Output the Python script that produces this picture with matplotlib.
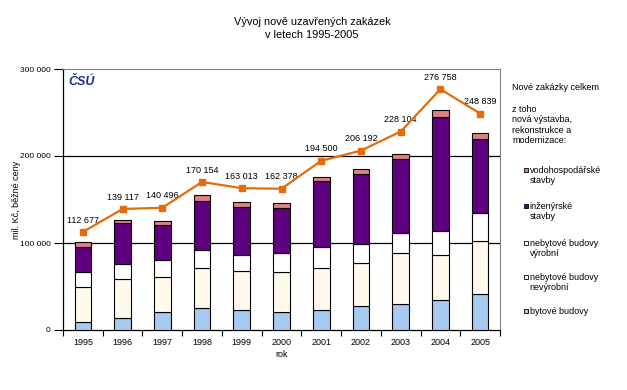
import numpy as np
import matplotlib.pyplot as plt
from matplotlib.patches import Rectangle

plt.rcParams['font.family'] = ['Liberation Sans', 'DejaVu Sans']
plt.rcParams['font.size'] = 6.5

# data (mil. Kc)
years = ['1995', '1996', '1997', '1998', '1999', '2000', '2001', '2002', '2003', '2004', '2005']
bytove = [8800, 13800, 20400, 25000, 22700, 20400, 22700, 27300, 29600, 34200, 41200]
nevyrobni = [40400, 44700, 40400, 46200, 45000, 46100, 48500, 49600, 58900, 52000, 61100]
vyrobni = [17300, 17300, 19600, 20700, 18500, 22000, 24200, 22300, 23000, 27600, 32300]
inzenyrske = [28900, 47300, 40400, 56600, 55300, 51500, 76200, 80400, 85500, 131600, 85400]
vodohosp = [5800, 3800, 4600, 6100, 5800, 6200, 4600, 5000, 5700, 6900, 6100]
celkem = [112677, 139117, 140496, 170154, 163013, 162378, 194500, 206192, 228104, 276758, 248839]

series = [bytove, nevyrobni, vyrobni, inzenyrske, vodohosp]
colors = ['#A6CAF0', '#FFFAEC', '#FFFFFF', '#5F0080', '#DC8282']
names = ['bytové budovy', 'nebytové budovy\nnevýrobní', 'nebytové budovy\nvýrobní',
         'inženýrské\nstavby', 'vodohospodářské\nstavby']

W, H = 627, 390
fig = plt.figure(figsize=(W / 100, H / 100), dpi=100)
ax = fig.add_axes([63 / W, 1 - 330 / H, 437 / W, 261 / H])

x = np.arange(len(years))
bottom = np.zeros(len(years))
for vals, c in zip(series, colors):
    ax.bar(x, vals, 0.42, bottom=bottom, color=c, edgecolor='black', linewidth=0.8, zorder=3)
    bottom += np.array(vals)

ax.plot(x, celkem, color='#E46C0A', linewidth=1.6, marker='s', markersize=4.5, zorder=4)
for xi, v in zip(x, celkem):
    lbl = f'{v:,}'.replace(',', ' ')
    ax.annotate(lbl, (xi, v), xytext=(0, 8.6), textcoords='offset points',
                ha='center', va='center', fontsize=6.5)

ax.set_xlim(-0.5, len(years) - 0.5)
ax.set_ylim(0, 300000)
ax.set_yticks([0, 100000, 200000, 300000])
ax.set_yticklabels(['0', '100 000', '200 000', '300 000'])
ax.set_xticks(x)
ax.set_xticklabels(years)
ax.set_xticks(np.arange(-0.5, len(years)), minor=True)
ax.tick_params(axis='x', which='major', length=0, pad=6)
ax.tick_params(axis='x', which='minor', length=4, width=0.8)
ax.tick_params(axis='y', length=6.5, width=0.8, pad=2.5, labelsize=6)
for yv in [100000, 200000]:
    ax.axhline(yv, color='black', linewidth=0.9, zorder=1)
ax.spines['top'].set_color('#808080')
ax.spines['right'].set_color('#808080')
ax.spines['left'].set_linewidth(0.9)
ax.spines['bottom'].set_linewidth(0.9)

ax.set_xlabel('rok', labelpad=2)
ax.set_ylabel('mil. Kč, běžné ceny')
ax.yaxis.set_label_coords(-0.096, 0.5)

ax.text(0.012, 0.975, 'ČSÚ', transform=ax.transAxes, ha='left', va='top',
        fontsize=9, fontweight='bold', style='italic', color='#1F2A9C')

fig.text(312 / W, 1 - 28.5 / H, 'Vývoj nově uzavřených zakázek\nv letech 1995-2005',
         ha='center', va='center', fontsize=7.9, linespacing=1.45)

# legend block
fig.text(512 / W, 1 - 88 / H, 'Nové zakázky celkem', ha='left', va='center')
fig.text(512 / W, 1 - 104.5 / H, 'z toho\nnová výstavba,\nrekonstrukce a\nmodernizace:',
         ha='left', va='top', linespacing=1.22)
leg_y = [311, 277, 243, 206, 170]
for c, n, yy in zip(colors, names, leg_y):
    fig.patches.append(Rectangle((523.5 / W, 1 - (yy + 2.3) / H), 4.6 / W, 4.6 / H,
                                 transform=fig.transFigure, facecolor=c,
                                 edgecolor='black', linewidth=0.6))
    fig.text(529.5 / W, 1 - (yy - 4.5) / H, n, ha='left', va='top', linespacing=1.2)

fig.savefig('out.png', dpi=100)
